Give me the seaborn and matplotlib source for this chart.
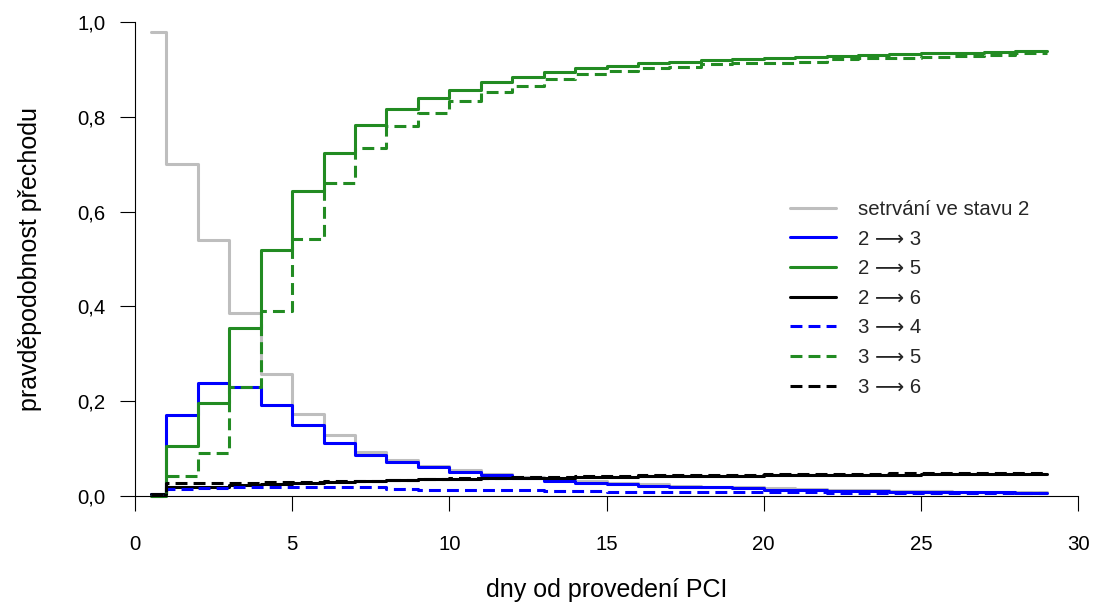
import matplotlib
matplotlib.use("Agg")
import matplotlib.pyplot as plt
import pandas as pd
import seaborn as sns

# ---- data (value of each step; step starts at the given day) ----
days = [0.5] + list(range(1, 29))
end_day = 29

labels = ["setrvání ve stavu 2", "2 ⟶ 3", "2 ⟶ 5", "2 ⟶ 6", "3 ⟶ 4", "3 ⟶ 5", "3 ⟶ 6"]

stay_2 = [0.978, 0.700, 0.540, 0.387, 0.257, 0.174, 0.128, 0.092, 0.076, 0.064,
          0.054, 0.047, 0.041, 0.036, 0.031, 0.028, 0.025, 0.022, 0.020, 0.018,
          0.016, 0.014, 0.013, 0.012, 0.011, 0.010, 0.009, 0.008, 0.008]
t_2_3 = [0.004, 0.170, 0.238, 0.231, 0.191, 0.149, 0.111, 0.087, 0.072, 0.062,
         0.050, 0.044, 0.037, 0.032, 0.028, 0.025, 0.022, 0.020, 0.018, 0.016,
         0.013, 0.013, 0.011, 0.010, 0.009, 0.009, 0.008, 0.008, 0.007]
t_2_5 = [0.000, 0.106, 0.197, 0.354, 0.520, 0.643, 0.724, 0.782, 0.816, 0.840,
         0.857, 0.873, 0.883, 0.894, 0.902, 0.908, 0.913, 0.916, 0.920, 0.922,
         0.925, 0.927, 0.929, 0.931, 0.932, 0.934, 0.935, 0.937, 0.938]
t_2_6 = [0.005, 0.018, 0.020, 0.023, 0.025, 0.027, 0.029, 0.031, 0.033, 0.035,
         0.036, 0.037, 0.038, 0.039, 0.040, 0.041, 0.042, 0.042, 0.043, 0.043,
         0.044, 0.044, 0.045, 0.045, 0.045, 0.046, 0.046, 0.046, 0.046]
t_3_4 = [0.003, 0.015, 0.017, 0.018, 0.019, 0.020, 0.020, 0.019, 0.014, 0.013,
         0.013, 0.012, 0.012, 0.011, 0.010, 0.009, 0.009, 0.009, 0.008, 0.008,
         0.008, 0.008, 0.007, 0.007, 0.007, 0.007, 0.007, 0.007, 0.007]
t_3_5 = [0.000, 0.042, 0.091, 0.229, 0.390, 0.542, 0.660, 0.734, 0.781, 0.809,
         0.834, 0.852, 0.866, 0.880, 0.890, 0.897, 0.902, 0.906, 0.911, 0.913,
         0.914, 0.916, 0.921, 0.923, 0.925, 0.927, 0.929, 0.931, 0.934]
t_3_6 = [0.003, 0.027, 0.027, 0.028, 0.029, 0.030, 0.031, 0.032, 0.034, 0.035,
         0.037, 0.038, 0.040, 0.041, 0.042, 0.043, 0.044, 0.044, 0.045, 0.045,
         0.046, 0.046, 0.047, 0.047, 0.048, 0.048, 0.048, 0.049, 0.049]

x_ticks = [0, 5, 10, 15, 20, 25, 30]
y_ticks = [0.0, 0.2, 0.4, 0.6, 0.8, 1.0]
y_tick_labels = ["0,0", "0,2", "0,4", "0,6", "0,8", "1,0"]

colors = ["#BEBEBE", "#0000FF", "#228B22", "#000000", "#0000FF", "#228B22", "#000000"]
dash_styles = ["", "", "", "", (3.9, 2.0), (3.9, 2.0), (3.9, 2.0)]

# ---- long-form table ----
series = [stay_2, t_2_3, t_2_5, t_2_6, t_3_4, t_3_5, t_3_6]
rows = []
for name, vals in zip(labels, series):
    xs = days + [end_day]
    ys = vals + [vals[-1]]
    for d, v in zip(xs, ys):
        rows.append((d, v, name))
df = pd.DataFrame(rows, columns=["day", "prob", "transition"])

sns.set_theme(style="white")
plt.rcParams["font.family"] = ["Liberation Sans", "DejaVu Sans"]

FS = 14.7
FS_LAB = 18

fig = plt.figure(figsize=(10.99, 6.06), dpi=100)
ax = fig.add_axes([135 / 1099, (606 - 496) / 606, (1078 - 135) / 1099, (496 - 22) / 606])

sns.lineplot(
    data=df, x="day", y="prob", hue="transition", style="transition",
    hue_order=labels, style_order=labels,
    palette=dict(zip(labels, colors)), dashes=dict(zip(labels, dash_styles)),
    drawstyle="steps-post", linewidth=2.2, errorbar=None, ax=ax,
    clip_on=False, dash_capstyle="butt", legend=True,
)

ax.set_xlim(0, 30)
ax.set_ylim(0, 1)
ax.set_xticks(x_ticks)
ax.set_xticklabels([str(t) for t in x_ticks])
ax.set_yticks(y_ticks)
ax.set_yticklabels(y_tick_labels)

for s in ["top", "right"]:
    ax.spines[s].set_visible(False)
for s in ["left", "bottom"]:
    ax.spines[s].set_color("black")
    ax.spines[s].set_linewidth(0.8)
ax.tick_params(axis="both", which="major", bottom=True, left=True, direction="out",
               length=11, width=0.8, color="black", labelsize=FS, labelcolor="black")
ax.tick_params(axis="x", pad=17)
ax.tick_params(axis="y", pad=10.5)

ax.set_xlabel("dny od provedení PCI", fontsize=FS_LAB, color="black")
ax.set_ylabel("pravděpodobnost přechodu", fontsize=FS_LAB, color="black")
ax.xaxis.set_label_coords(0.5, (606 - 590 - 110) / 474)
ax.xaxis.label.set_verticalalignment("center")
ax.yaxis.set_label_coords((30 - 135) / 943, 0.5)
ax.yaxis.label.set_verticalalignment("center")

handles, leg_labels = ax.get_legend_handles_labels()
for h in handles:
    h.set_linewidth(2.2)
ax.legend(handles, leg_labels, loc="upper left",
          bbox_to_anchor=((790 - 135) / 943, (496 - 200) / 474),
          frameon=False, fontsize=FS, handlelength=2.25, handletextpad=1.08,
          labelspacing=0.52, borderpad=0, borderaxespad=0)

fig.savefig("out.png", dpi=100)
